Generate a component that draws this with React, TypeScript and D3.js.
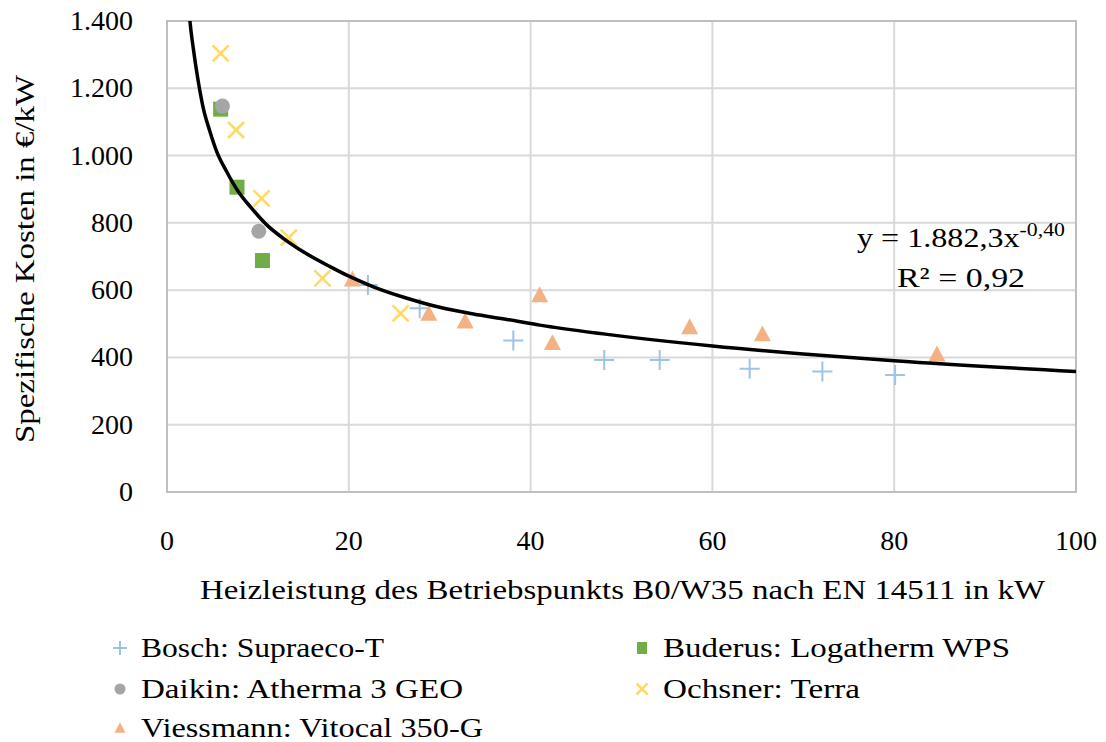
import * as d3 from "d3";

const xTicks = [0, 20, 40, 60, 80, 100];
const yTicks = [0, 200, 400, 600, 800, 1000, 1200, 1400];

const boschX = [22.1, 27.8, 38.1, 48.1, 54.2, 64.1, 72.1, 80.1];
const boschY = [615, 546, 450, 392, 392, 366, 358, 348];
const buderusX = [5.9, 7.7, 10.5];
const buderusY = [1138, 906, 688];
const daikinX = [6.1, 10.1];
const daikinY = [1147, 775];
const ochsnerX = [5.9, 7.6, 10.4, 13.4, 17.1, 25.7];
const ochsnerY = [1304, 1076, 873, 756, 635, 531];
const viessmannX = [20.4, 28.8, 32.8, 41.0, 42.4, 57.5, 65.5, 84.7];
const viessmannY = [633, 531, 508, 586, 444, 491, 470, 410];

// trend line
const trendX = [2.4, 2.53, 2.89, 3.44, 3.99, 4.73, 5.47, 6.57, 7.84, 9.32, 10.97, 12.79, 14.99, 17.93, 20.13, 22.7, 26.4, 30, 33.7, 37.4, 41, 48, 60, 70, 80, 100];
const trendY = [1440, 1398, 1319, 1220, 1141, 1071, 1012, 952, 893, 843, 794, 754, 714, 670, 640, 610, 576, 549, 529, 513, 496, 470, 434, 410, 390, 358];

const FONT = "'Liberation Serif', 'DejaVu Serif', serif";
const FS = 28;

const de = d3.formatLocale({ decimal: ",", thousands: ".", grouping: [3], currency: ["", "€"] });
const fmt = de.format(",");

const x = d3.scaleLinear().domain([0, 100]).range([167, 1076]);
const y = d3.scaleLinear().domain([0, 1400]).range([492, 21]);

const zip = (xs: number[], ys: number[]) => xs.map((v, i) => [v, ys[i]] as [number, number]);

function Plus({ cx, cy, r, color }: { cx: number; cy: number; r: number; color: string }) {
  return (
    <path d={`M${cx - r},${cy}H${cx + r}M${cx},${cy - r}V${cy + r}`} stroke={color} strokeWidth={2} fill="none" />
  );
}
function Cross({ cx, cy, r, color }: { cx: number; cy: number; r: number; color: string }) {
  return (
    <path
      d={`M${cx - r},${cy - r}L${cx + r},${cy + r}M${cx - r},${cy + r}L${cx + r},${cy - r}`}
      stroke={color}
      strokeWidth={2.6}
      fill="none"
    />
  );
}
function Tri({ cx, cy, s, color }: { cx: number; cy: number; s: number; color: string }) {
  const h = s * 0.88;
  return <path d={`M${cx},${cy - h / 2 - 1}L${cx + s / 2},${cy + h / 2}L${cx - s / 2},${cy + h / 2}Z`} fill={color} />;
}

const BLUE = "#9DC3E6";
const GREEN = "#70AD47";
const GRAY = "#A5A5A5";
const YELLOW = "#FFD966";
const ORANGE = "#F4B183";

export default function App() {
  const line = d3
    .line<[number, number]>()
    .x((d) => x(d[0]))
    .y((d) => y(d[1]))
    .curve(d3.curveMonotoneX);

  const legend = [
    { label: "Bosch: Supraeco-T", col: 0, row: 0, kind: "plus", color: BLUE, w: 243 },
    { label: "Buderus: Logatherm WPS", col: 1, row: 0, kind: "square", color: GREEN, w: 347 },
    { label: "Daikin: Atherma 3 GEO", col: 0, row: 1, kind: "circle", color: GRAY, w: 322 },
    { label: "Ochsner: Terra", col: 1, row: 1, kind: "cross", color: YELLOW, w: 197 },
    { label: "Viessmann: Vitocal 350-G", col: 0, row: 2, kind: "tri", color: ORANGE, w: 342 },
  ];
  const legX = [120, 642];
  const legY = [648, 689, 728];

  return (
    <svg
      width={1106}
      height={742}
      style={{ position: "absolute", left: 0, top: 0, background: "#fff" }}
      fontFamily={FONT}
    >
      <defs>
        <clipPath id="plot">
          <rect x={x(0)} y={y(1400)} width={x(100) - x(0)} height={y(0) - y(1400)} />
        </clipPath>
      </defs>

      {/* grid */}
      <g stroke="#D9D9D9" strokeWidth={2}>
        {xTicks.map((t) => (
          <line key={"gx" + t} x1={x(t)} x2={x(t)} y1={y(0)} y2={y(1400)} />
        ))}
        {yTicks.map((t) => (
          <line key={"gy" + t} x1={x(0)} x2={x(100)} y1={y(t)} y2={y(t)} />
        ))}
      </g>
      <rect
        x={x(0)}
        y={y(1400)}
        width={x(100) - x(0)}
        height={y(0) - y(1400)}
        fill="none"
        stroke="#BFBFBF"
        strokeWidth={2}
      />

      {/* tick labels */}
      <g fontSize={FS} fill="#000">
        {yTicks.map((t) => (
          <text key={"ty" + t} x={133} y={y(t) + 9} textAnchor="end">
            {fmt(t)}
          </text>
        ))}
        {xTicks.map((t) => (
          <text key={"tx" + t} x={x(t)} y={550} textAnchor="middle">
            {t}
          </text>
        ))}
      </g>

      {/* axis titles */}
      <text x={200} y={599} fontSize={FS} textLength={845} lengthAdjust="spacingAndGlyphs">
        Heizleistung des Betriebspunkts B0/W35 nach EN 14511 in kW
      </text>
      <text
        transform="translate(34,443) rotate(-90)"
        fontSize={FS}
        textLength={368}
        lengthAdjust="spacingAndGlyphs"
      >
        Spezifische Kosten in €/kW
      </text>

      {/* markers */}
      <g>
        {zip(boschX, boschY).map(([a, b], i) => (
          <Plus key={"b" + i} cx={x(a)} cy={y(b)} r={10} color={BLUE} />
        ))}
        {zip(buderusX, buderusY).map(([a, b], i) => (
          <rect key={"bu" + i} x={x(a) - 7.5} y={y(b) - 7.5} width={15} height={15} fill={GREEN} />
        ))}
        {zip(daikinX, daikinY).map(([a, b], i) => (
          <circle key={"d" + i} cx={x(a)} cy={y(b)} r={7.5} fill={GRAY} />
        ))}
        {zip(ochsnerX, ochsnerY).map(([a, b], i) => (
          <Cross key={"o" + i} cx={x(a)} cy={y(b)} r={8} color={YELLOW} />
        ))}
        {zip(viessmannX, viessmannY).map(([a, b], i) => (
          <Tri key={"v" + i} cx={x(a)} cy={y(b)} s={17} color={ORANGE} />
        ))}
      </g>

      {/* trend line */}
      <path
        d={line(zip(trendX, trendY)) || ""}
        fill="none"
        stroke="#000"
        strokeWidth={3.5}
        clipPath="url(#plot)"
      />

      {/* equation */}
      <text x={857} y={247} fontSize={FS} textLength={208} lengthAdjust="spacingAndGlyphs">
        y = 1.882,3x
        <tspan fontSize={19} dy={-11}>
          -0,40
        </tspan>
      </text>
      <text x={897} y={287} fontSize={FS} textLength={128} lengthAdjust="spacingAndGlyphs">
        R² = 0,92
      </text>

      {/* legend */}
      <g fontSize={FS}>
        {legend.map((l) => {
          const cx = legX[l.col];
          const cy = legY[l.row];
          let m;
          if (l.kind === "plus") m = <Plus cx={cx} cy={cy} r={7} color={l.color} />;
          else if (l.kind === "square")
            m = <rect x={cx - 5} y={cy - 6} width={10} height={12} fill={l.color} />;
          else if (l.kind === "circle") m = <circle cx={cx} cy={cy} r={5.5} fill={l.color} />;
          else if (l.kind === "cross") m = <Cross cx={cx} cy={cy} r={5.5} color={l.color} />;
          else m = <Tri cx={cx} cy={cy} s={11} color={l.color} />;
          return (
            <g key={l.label}>
              {m}
              <text x={cx + 21} y={cy + 9} textLength={l.w} lengthAdjust="spacingAndGlyphs">
                {l.label}
              </text>
            </g>
          );
        })}
      </g>
    </svg>
  );
}
